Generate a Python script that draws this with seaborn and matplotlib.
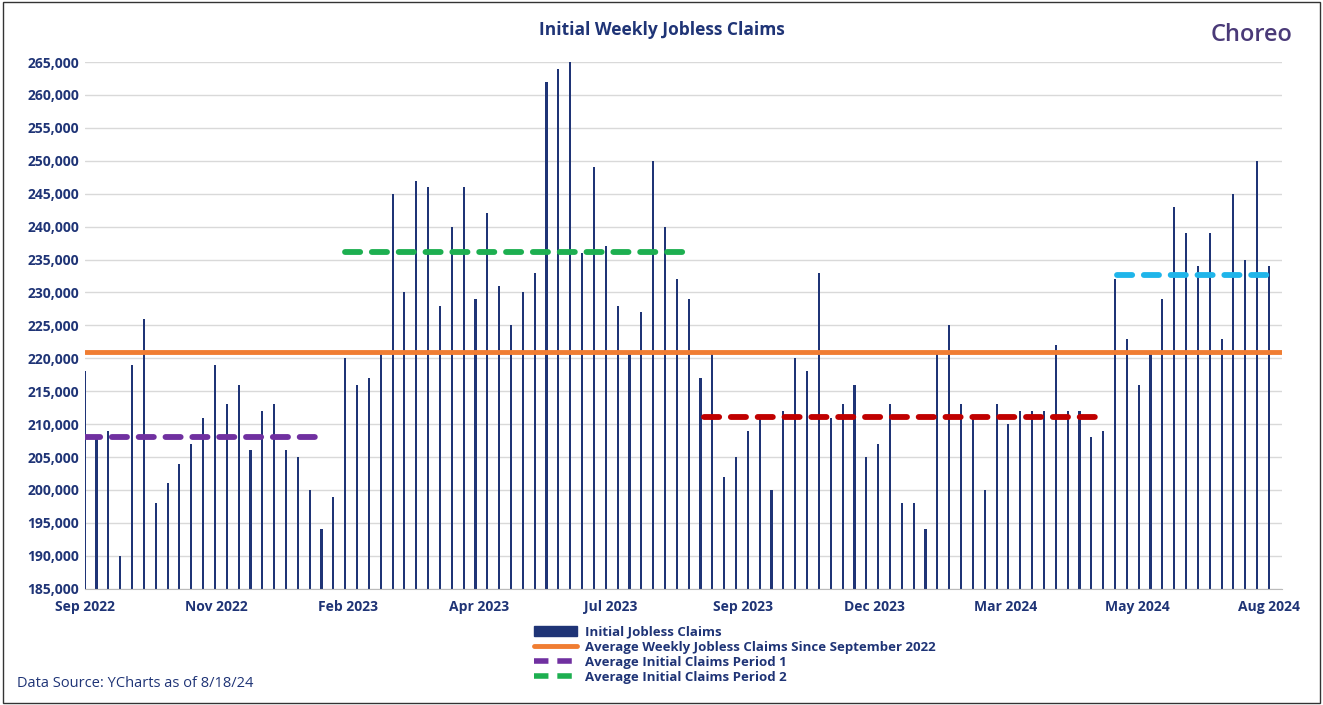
import numpy as np
import pandas as pd
import matplotlib
matplotlib.use("Agg")
import matplotlib.pyplot as plt
import seaborn as sns
from matplotlib.lines import Line2D
from matplotlib.patches import Patch

# weekly initial claims, thousands (Sep 2022 - Aug 2024)
period1 = [218, 208, 209, 190, 219, 226, 198, 201, 204, 207, 211, 219, 213, 216,
           206, 212, 213, 206, 205, 200, 194, 199]
period2 = [220, 216, 217, 221, 245, 230, 247, 246, 228, 240, 246, 229, 242, 231,
           225, 230, 233, 262, 264, 265, 236, 249, 237, 228, 221, 227, 250, 240,
           232, 229]
period3 = [217, 221, 202, 205, 209, 211, 200, 212, 220, 218, 233, 211, 213, 216,
           205, 207, 213, 198, 198, 194, 221, 225, 213, 211, 200, 213, 210, 212,
           212, 212, 222, 212, 212, 208, 209]
period4 = [232, 223, 216, 221, 229, 243, 239, 234, 239, 223, 245, 235, 250, 234]

avg_all = 221.0
avg_periods = [208.0, 236.2, 211.1, 232.7]
period_colors = ["#7030A0", "#1DAF50", "#C00000", "#1FB5EA"]
tick_labels = ["Sep 2022", "Nov 2022", "Feb 2023", "Apr 2023", "Jul 2023",
               "Sep 2023", "Dec 2023", "Mar 2024", "May 2024", "Aug 2024"]

claims = [v * 1000 for v in period1 + period2 + period3 + period4]
df = pd.DataFrame({"week": np.arange(len(claims)), "claims": claims})

sns.set_style("white")
plt.rcParams["font.family"] = ["Open Sans", "DejaVu Sans"]
navy = "#1F3476"

fig = plt.figure(figsize=(13.23, 7.05), dpi=100)
ax = fig.add_axes([0.064, 0.165, 0.905, 0.747])

sns.barplot(data=df, x="week", y="claims", native_scale=True, width=0.18,
            color=navy, saturation=1, linewidth=0, ax=ax)

n = len(claims)
ax.axhline(avg_all * 1000, color="#F07D32", lw=3.5, zorder=3)

# period average dashed lines (x extents in week index)
spans = [(0.0, 20.3), (22.0, 50.8), (52.3, 86.1), (87.2, 100.0)]
for (a, b), avg, c in zip(spans, avg_periods, period_colors):
    ax.plot([a, b], [avg * 1000] * 2, color=c, lw=4.2, ls=(0, (2.6, 2.0)),
            solid_capstyle="round", dash_capstyle="round", zorder=4)

ax.set_xlim(0, n - 1 + 1.1)
ax.set_ylim(185000, 265000)
ax.set_yticks(np.arange(185000, 265001, 5000))
ax.set_yticklabels([f"{v:,}" for v in range(185000, 265001, 5000)],
                   fontsize=10, fontweight="bold", color=navy)
ax.set_xticks(np.linspace(0, n - 1, 10))
ax.set_xticklabels(tick_labels, fontsize=10, fontweight="bold", color=navy)
ax.tick_params(axis="x", length=4, color="#BBBBBB", pad=4)
ax.tick_params(axis="y", length=0, pad=4)
ax.yaxis.grid(True, color="#D9D9D9", lw=1)
ax.set_axisbelow(True)
for s in ["top", "right", "left"]:
    ax.spines[s].set_visible(False)
ax.spines["bottom"].set_color("#BBBBBB")
ax.set_xlabel("")
ax.set_ylabel("")

fig.text(0.5, 0.958, "Initial Weekly Jobless Claims", ha="center", va="center",
         fontsize=12.5, fontweight="bold", color=navy)
fig.text(0.915, 0.95, "Choreo", ha="left", va="center", fontsize=17,
         color="#4A3A78", fontweight="semibold")

handles = [
    Patch(color=navy),
    Line2D([], [], color="#F07D32", lw=3.5),
    Line2D([], [], color=period_colors[0], lw=4, ls=(0, (2.6, 1.6))),
    Line2D([], [], color=period_colors[1], lw=4, ls=(0, (2.6, 1.6))),
]
labels = ["Initial Jobless Claims",
          "Average Weekly Jobless Claims Since September 2022",
          "Average Initial Claims Period 1",
          "Average Initial Claims Period 2"]
leg = fig.legend(handles, labels, loc="upper left", bbox_to_anchor=(0.4, 0.12),
                 frameon=False, fontsize=9.5, handlelength=3.2, labelspacing=0.15,
                 borderaxespad=0, handletextpad=0.6)
for t in leg.get_texts():
    t.set_color(navy)
    t.set_fontweight("bold")

fig.text(0.013, 0.03, "Data Source: YCharts as of 8/18/24", fontsize=10.5,
         color=navy, va="center")
fig.patches.append(plt.Rectangle((0.002, 0.003), 0.996, 0.994, fill=False,
                                 edgecolor="#333333", lw=1, transform=fig.transFigure))

fig.savefig("out.png", dpi=100)
